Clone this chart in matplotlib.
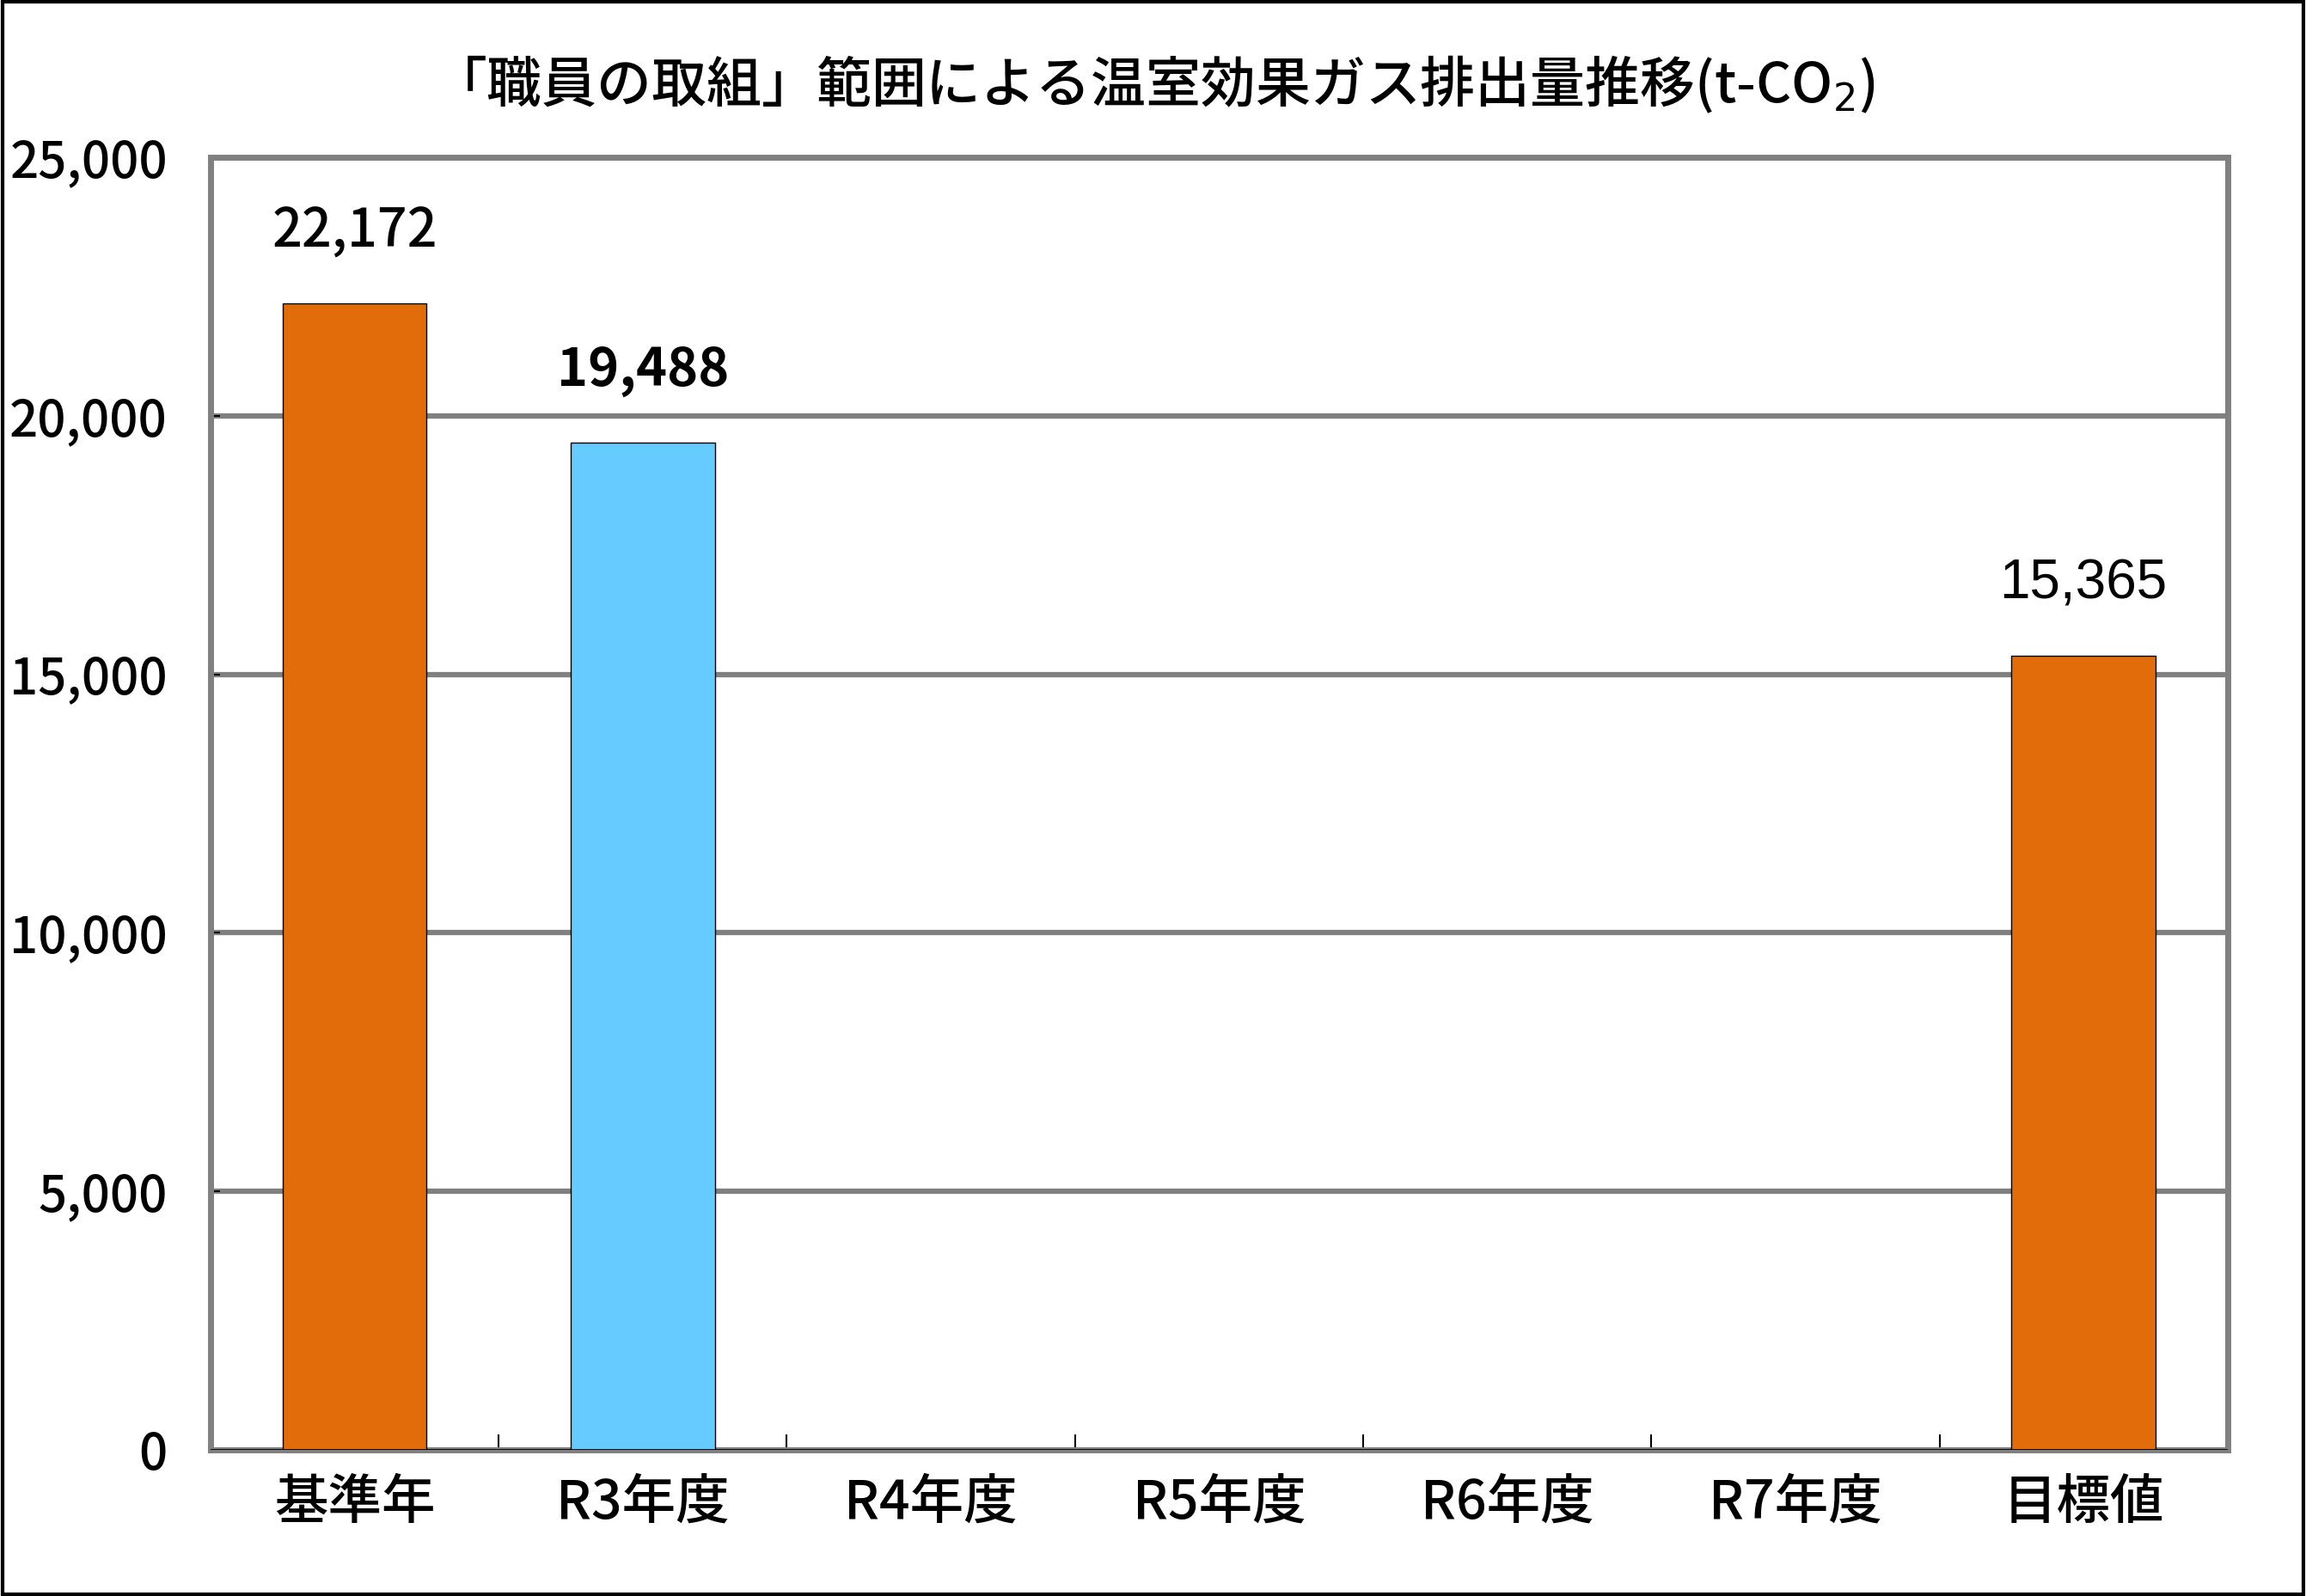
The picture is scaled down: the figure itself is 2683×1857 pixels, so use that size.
import numpy as np
import matplotlib
matplotlib.use("Agg")
import matplotlib.pyplot as plt
from matplotlib.patches import Rectangle
from matplotlib.ticker import FuncFormatter, FixedLocator

plt.rcParams['font.family'] = ['Noto Sans CJK JP', 'DejaVu Sans']
plt.rcParams['font.weight'] = 'medium'

# data
categories = ["基準年", "R3年度", "R4年度", "R5年度", "R6年度", "R7年度", "目標値"]
values = [22172, 19488, np.nan, np.nan, np.nan, np.nan, 15365]
bar_colors = ["#E36C0A", "#66CCFF", "#E36C0A", "#E36C0A", "#E36C0A", "#E36C0A", "#E36C0A"]
y_ticks = [0, 5000, 10000, 15000, 20000, 25000]
title = "「職員の取組」範囲による温室効果ガス排出量推移(t-CO$_2$)"

fig = plt.figure(figsize=(26.83, 18.57), dpi=100)
ax = fig.add_axes([0.0913, 0.0915, 0.8747, 0.8099])

x = np.arange(len(categories))
for xi, v, c in zip(x, values, bar_colors):
    if np.isnan(v):
        continue
    ax.bar(xi, v, width=0.5, color=c, edgecolor="black", linewidth=1.0, zorder=3)

# data labels
for xi, v in zip(x, values):
    if np.isnan(v):
        continue
    txt = f"{int(v):,}"
    if xi == len(categories) - 1:
        ax.annotate(txt, (xi, v), xytext=(0, 60), textcoords="offset points",
                    ha="center", va="center", fontsize=46, family="Liberation Sans",
                    fontweight="normal")
    else:
        ax.annotate(txt, (xi, v), xytext=(0, 60), textcoords="offset points",
                    ha="center", va="center", fontsize=44,
                    fontweight="bold" if xi == 1 else "medium")

ax.set_xlim(-0.5, len(categories) - 0.5)
ax.set_ylim(0, 25000)

ax.set_yticks(y_ticks)
ax.yaxis.set_major_formatter(FuncFormatter(lambda v, p: f"{int(v):,}"))
ax.tick_params(axis="y", direction="in", length=8, width=1.5, color="black",
               labelsize=42, pad=36)

ax.set_xticks(x)
ax.set_xticklabels(categories, fontsize=45)
ax.tick_params(axis="x", which="major", length=0, pad=22)
ax.xaxis.set_minor_locator(FixedLocator(np.arange(0.5, len(categories) - 0.5, 1)))
ax.tick_params(axis="x", which="minor", direction="in", length=13, width=1.5, color="black")

ax.grid(axis="y", color="#808080", linewidth=4.5, zorder=1)
ax.set_axisbelow(True)
for s in ax.spines.values():
    s.set_color("#808080")
    s.set_linewidth(5)
ax.axhline(0, color="black", linewidth=2, zorder=4)

fig.text(0.5, 0.947, title, ha="center", va="center", fontsize=46)

# outer border
fig.patches.append(Rectangle((0.001, 0.001), 0.998, 0.998, transform=fig.transFigure,
                             fill=False, edgecolor="black", linewidth=3))

fig.savefig("out.png", dpi=100)
